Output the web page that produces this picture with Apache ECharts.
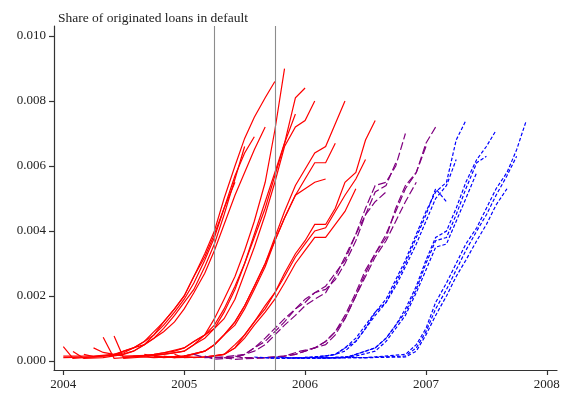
<!DOCTYPE html>
<html>
<head>
<meta charset="utf-8">
<script src="https://cdn.jsdelivr.net/npm/echarts@6/dist/echarts.min.js"></script>
<style>
  html, body { margin: 0; padding: 0; background: #fff; }
  #chart { width: 567px; height: 396px; }
</style>
</head>
<body>
<div id="chart"></div>
<script>
// ---- tick labels and reference dates ----
const xTicks = [2004, 2005, 2006, 2007, 2008];
const yTicks = [0, 0.002, 0.004, 0.006, 0.008, 0.010];
const eventDates = [2005.25, 2005.75];
const titleText = 'Share of originated loans in default';

// ---- red cohorts (solid) : [date, share] ----
const red01 = [[2004.00,0.00015],[2004.25,0.00015],[2004.42,0.00020],[2004.50,0.00025],[2004.58,0.00040],[2004.67,0.00060],[2004.75,0.00090],[2004.83,0.00120],[2004.92,0.00160],[2005.00,0.00200],[2005.08,0.00260],[2005.17,0.00320],[2005.25,0.00390],[2005.33,0.00470],[2005.42,0.00550]];
const red02 = [[2004.00,0.00010],[2004.25,0.00012],[2004.42,0.00018],[2004.50,0.00022],[2004.58,0.00030],[2004.67,0.00050],[2004.75,0.00070],[2004.83,0.00100],[2004.92,0.00140],[2005.00,0.00180],[2005.08,0.00220],[2005.17,0.00290],[2005.25,0.00360],[2005.33,0.00450],[2005.42,0.00560],[2005.50,0.00660]];
const red03 = [[2004.00,0.00044],[2004.08,0.00008],[2004.25,0.00012],[2004.42,0.00020],[2004.50,0.00030],[2004.58,0.00040],[2004.67,0.00050],[2004.75,0.00080],[2004.83,0.00110],[2004.92,0.00150],[2005.00,0.00190],[2005.08,0.00240],[2005.17,0.00310],[2005.25,0.00380],[2005.33,0.00470],[2005.42,0.00570],[2005.50,0.00640],[2005.58,0.00690]];
const red04 = [[2004.08,0.00029],[2004.17,0.00008],[2004.33,0.00010],[2004.50,0.00020],[2004.58,0.00030],[2004.67,0.00050],[2004.75,0.00070],[2004.83,0.00090],[2004.92,0.00120],[2005.00,0.00160],[2005.08,0.00210],[2005.17,0.00270],[2005.25,0.00340],[2005.33,0.00420],[2005.42,0.00510],[2005.50,0.00580],[2005.58,0.00650],[2005.67,0.00720]];
const red05 = [[2004.17,0.00020],[2004.25,0.00013],[2004.42,0.00018],[2004.50,0.00030],[2004.58,0.00040],[2004.67,0.00060],[2004.75,0.00080],[2004.83,0.00120],[2004.92,0.00160],[2005.00,0.00200],[2005.08,0.00260],[2005.17,0.00330],[2005.25,0.00400],[2005.33,0.00500],[2005.42,0.00600],[2005.50,0.00685],[2005.58,0.00750],[2005.67,0.00810],[2005.75,0.00860]];
const red06 = [[2004.25,0.00040],[2004.33,0.00026],[2004.50,0.00015],[2004.75,0.00018],[2004.92,0.00025],[2005.00,0.00030],[2005.08,0.00050],[2005.17,0.00080],[2005.25,0.00130],[2005.33,0.00190],[2005.42,0.00260],[2005.50,0.00340],[2005.58,0.00430],[2005.67,0.00550],[2005.75,0.00710],[2005.83,0.00900]];
const red07 = [[2004.33,0.00073],[2004.42,0.00008],[2004.58,0.00012],[2004.75,0.00020],[2004.92,0.00030],[2005.00,0.00040],[2005.08,0.00060],[2005.17,0.00080],[2005.25,0.00110],[2005.33,0.00160],[2005.42,0.00230],[2005.50,0.00300],[2005.58,0.00380],[2005.67,0.00470],[2005.75,0.00570],[2005.83,0.00670],[2005.92,0.00760]];
const red08 = [[2004.42,0.00077],[2004.50,0.00008],[2004.67,0.00012],[2004.83,0.00020],[2005.00,0.00030],[2005.08,0.00050],[2005.17,0.00070],[2005.25,0.00100],[2005.33,0.00150],[2005.42,0.00220],[2005.50,0.00300],[2005.58,0.00390],[2005.67,0.00490],[2005.75,0.00580],[2005.83,0.00670],[2005.92,0.00810],[2006.00,0.00840]];
const red09 = [[2004.50,0.00012],[2004.67,0.00015],[2004.83,0.00025],[2005.00,0.00040],[2005.08,0.00060],[2005.17,0.00080],[2005.25,0.00100],[2005.33,0.00130],[2005.42,0.00190],[2005.50,0.00270],[2005.58,0.00350],[2005.67,0.00450],[2005.75,0.00550],[2005.83,0.00660],[2005.92,0.00720],[2006.00,0.00740],[2006.08,0.00800]];
const red10 = [[2004.58,0.00015],[2004.75,0.00010],[2005.00,0.00015],[2005.17,0.00030],[2005.25,0.00050],[2005.33,0.00080],[2005.42,0.00120],[2005.50,0.00170],[2005.58,0.00230],[2005.67,0.00300],[2005.75,0.00370],[2005.83,0.00440],[2005.92,0.00510],[2006.00,0.00530],[2006.08,0.00550],[2006.17,0.00560]];
const red11 = [[2004.67,0.00020],[2004.83,0.00010],[2005.00,0.00015],[2005.17,0.00030],[2005.25,0.00050],[2005.33,0.00080],[2005.42,0.00110],[2005.50,0.00160],[2005.58,0.00220],[2005.67,0.00290],[2005.75,0.00370],[2005.83,0.00440],[2005.92,0.00510],[2006.00,0.00560],[2006.08,0.00610],[2006.17,0.00610],[2006.25,0.00670]];
const red12 = [[2004.75,0.00015],[2004.92,0.00010],[2005.08,0.00020],[2005.17,0.00030],[2005.25,0.00050],[2005.33,0.00080],[2005.42,0.00120],[2005.50,0.00170],[2005.58,0.00230],[2005.67,0.00300],[2005.75,0.00380],[2005.83,0.00460],[2005.92,0.00540],[2006.00,0.00590],[2006.08,0.00640],[2006.17,0.00660],[2006.25,0.00730],[2006.33,0.00800]];
const red13 = [[2004.83,0.00015],[2004.92,0.00010],[2005.17,0.00012],[2005.33,0.00020],[2005.42,0.00040],[2005.50,0.00070],[2005.58,0.00110],[2005.67,0.00150],[2005.75,0.00190],[2005.83,0.00240],[2005.92,0.00300],[2006.00,0.00340],[2006.08,0.00380],[2006.17,0.00380],[2006.25,0.00420],[2006.33,0.00460],[2006.42,0.00530]];
const red14 = [[2004.92,0.00020],[2005.00,0.00010],[2005.17,0.00012],[2005.33,0.00020],[2005.42,0.00040],[2005.50,0.00080],[2005.58,0.00120],[2005.67,0.00160],[2005.75,0.00210],[2005.83,0.00260],[2005.92,0.00320],[2006.00,0.00360],[2006.08,0.00400],[2006.17,0.00410],[2006.25,0.00460],[2006.33,0.00510],[2006.42,0.00560],[2006.50,0.00620]];
const red15 = [[2005.00,0.00015],[2005.08,0.00010],[2005.25,0.00015],[2005.33,0.00020],[2005.42,0.00050],[2005.50,0.00080],[2005.58,0.00120],[2005.67,0.00170],[2005.75,0.00210],[2005.83,0.00270],[2005.92,0.00330],[2006.00,0.00370],[2006.08,0.00420],[2006.17,0.00420],[2006.25,0.00470],[2006.33,0.00550],[2006.42,0.00580],[2006.50,0.00680],[2006.58,0.00740]];

// ---- purple cohorts (long dash) ----
const purple1 = [[2005.08,0.00020],[2005.17,0.00010],[2005.33,0.00012],[2005.50,0.00020],[2005.58,0.00030],[2005.67,0.00050],[2005.75,0.00080],[2005.83,0.00110],[2005.92,0.00140],[2006.00,0.00170],[2006.08,0.00190],[2006.17,0.00210],[2006.25,0.00260],[2006.33,0.00320],[2006.42,0.00390],[2006.50,0.00450],[2006.58,0.00490],[2006.67,0.00520]];
const purple2 = [[2005.17,0.00015],[2005.25,0.00005],[2005.42,0.00010],[2005.50,0.00020],[2005.58,0.00040],[2005.67,0.00060],[2005.75,0.00090],[2005.83,0.00120],[2005.92,0.00160],[2006.00,0.00180],[2006.08,0.00210],[2006.17,0.00220],[2006.25,0.00250],[2006.33,0.00300],[2006.42,0.00370],[2006.50,0.00450],[2006.58,0.00520],[2006.67,0.00540],[2006.75,0.00610]];
const purple3 = [[2005.25,0.00010],[2005.42,0.00012],[2005.50,0.00020],[2005.58,0.00040],[2005.67,0.00070],[2005.75,0.00100],[2005.83,0.00130],[2005.92,0.00160],[2006.00,0.00190],[2006.08,0.00210],[2006.17,0.00230],[2006.25,0.00270],[2006.33,0.00310],[2006.42,0.00390],[2006.50,0.00470],[2006.58,0.00540],[2006.67,0.00550],[2006.75,0.00600],[2006.83,0.00700]];
const purple4 = [[2005.33,0.00010],[2005.42,0.00005],[2005.58,0.00008],[2005.75,0.00010],[2005.92,0.00020],[2006.00,0.00030],[2006.08,0.00040],[2006.17,0.00060],[2006.25,0.00090],[2006.33,0.00130],[2006.42,0.00200],[2006.50,0.00260],[2006.58,0.00320],[2006.67,0.00370],[2006.75,0.00430],[2006.83,0.00490],[2006.92,0.00550]];
const purple5 = [[2005.42,0.00015],[2005.50,0.00008],[2005.67,0.00010],[2005.83,0.00015],[2005.92,0.00020],[2006.00,0.00030],[2006.08,0.00040],[2006.17,0.00050],[2006.25,0.00080],[2006.33,0.00130],[2006.42,0.00200],[2006.50,0.00270],[2006.58,0.00330],[2006.67,0.00390],[2006.75,0.00460],[2006.83,0.00530],[2006.92,0.00580],[2007.00,0.00660]];
const purple6 = [[2005.50,0.00010],[2005.67,0.00010],[2005.83,0.00015],[2005.96,0.00030],[2006.08,0.00040],[2006.17,0.00060],[2006.25,0.00090],[2006.33,0.00140],[2006.42,0.00210],[2006.50,0.00280],[2006.58,0.00330],[2006.67,0.00380],[2006.75,0.00470],[2006.83,0.00540],[2006.92,0.00580],[2007.00,0.00670],[2007.08,0.00720]];

// ---- blue cohorts (short dash) ----
const blue1 = [[2005.58,0.00012],[2005.75,0.00008],[2006.00,0.00010],[2006.17,0.00015],[2006.25,0.00020],[2006.33,0.00040],[2006.42,0.00070],[2006.50,0.00110],[2006.58,0.00150],[2006.67,0.00180],[2006.75,0.00240],[2006.83,0.00300],[2006.92,0.00380],[2007.00,0.00450],[2007.08,0.00530],[2007.17,0.00490]];
const blue2 = [[2005.67,0.00010],[2005.83,0.00008],[2006.00,0.00010],[2006.17,0.00015],[2006.25,0.00020],[2006.33,0.00030],[2006.42,0.00060],[2006.50,0.00100],[2006.58,0.00140],[2006.67,0.00180],[2006.75,0.00230],[2006.83,0.00290],[2006.92,0.00360],[2007.00,0.00430],[2007.08,0.00500],[2007.17,0.00540],[2007.25,0.00620]];
const blue3 = [[2005.75,0.00012],[2005.92,0.00008],[2006.08,0.00010],[2006.25,0.00020],[2006.33,0.00040],[2006.42,0.00060],[2006.50,0.00100],[2006.58,0.00150],[2006.67,0.00190],[2006.75,0.00250],[2006.83,0.00310],[2006.92,0.00390],[2007.00,0.00460],[2007.08,0.00520],[2007.17,0.00550],[2007.25,0.00680],[2007.33,0.00740]];
const blue4 = [[2005.83,0.00010],[2006.00,0.00008],[2006.25,0.00010],[2006.42,0.00015],[2006.58,0.00030],[2006.67,0.00060],[2006.75,0.00100],[2006.83,0.00140],[2006.92,0.00210],[2007.00,0.00280],[2007.08,0.00350],[2007.17,0.00360],[2007.25,0.00430],[2007.33,0.00500],[2007.42,0.00580]];
const blue5 = [[2005.92,0.00010],[2006.08,0.00008],[2006.33,0.00010],[2006.42,0.00020],[2006.58,0.00040],[2006.67,0.00070],[2006.75,0.00110],[2006.83,0.00150],[2006.92,0.00220],[2007.00,0.00300],[2007.08,0.00370],[2007.17,0.00380],[2007.25,0.00450],[2007.33,0.00530],[2007.42,0.00610],[2007.50,0.00630]];
const blue6 = [[2006.00,0.00012],[2006.17,0.00008],[2006.33,0.00010],[2006.42,0.00020],[2006.58,0.00040],[2006.67,0.00070],[2006.75,0.00110],[2006.83,0.00160],[2006.92,0.00230],[2007.00,0.00310],[2007.08,0.00380],[2007.17,0.00400],[2007.25,0.00470],[2007.33,0.00550],[2007.42,0.00620],[2007.50,0.00660],[2007.58,0.00710]];
const blue7 = [[2006.08,0.00010],[2006.50,0.00010],[2006.83,0.00012],[2006.92,0.00030],[2007.00,0.00080],[2007.08,0.00140],[2007.17,0.00200],[2007.25,0.00260],[2007.33,0.00310],[2007.42,0.00370],[2007.50,0.00420],[2007.58,0.00480],[2007.67,0.00530]];
const blue8 = [[2006.17,0.00010],[2006.50,0.00010],[2006.83,0.00015],[2006.92,0.00040],[2007.00,0.00090],[2007.08,0.00160],[2007.17,0.00220],[2007.25,0.00280],[2007.33,0.00340],[2007.42,0.00400],[2007.50,0.00450],[2007.58,0.00510],[2007.67,0.00570],[2007.75,0.00630]];
const blue9 = [[2006.25,0.00012],[2006.50,0.00010],[2006.83,0.00020],[2006.92,0.00050],[2007.00,0.00100],[2007.08,0.00180],[2007.17,0.00240],[2007.25,0.00300],[2007.33,0.00360],[2007.42,0.00410],[2007.50,0.00470],[2007.58,0.00530],[2007.67,0.00580],[2007.75,0.00650],[2007.83,0.00740]];

const redLines = [red01, red02, red03, red04, red05, red06, red07, red08, red09, red10, red11, red12, red13, red14, red15];
const purpleLines = [purple1, purple2, purple3, purple4, purple5, purple6];
const blueLines = [blue1, blue2, blue3, blue4, blue5, blue6, blue7, blue8, blue9];

const FONT = "'Liberation Serif', 'DejaVu Serif', serif";

function lineSeries(data, color, type, z) {
  return {
    type: 'line', data: data, showSymbol: false, symbol: 'none',
    silent: true, z: z, animation: false,
    lineStyle: { color: color, width: 1.2, type: type, cap: 'butt', join: 'miter' }
  };
}

const series = [];
// reference lines for the two dates
series.push({
  type: 'line', data: [], z: 1, silent: true,
  markLine: {
    silent: true, symbol: ['none', 'none'], animation: false,
    label: { show: false },
    lineStyle: { color: '#8c8c8c', width: 1.1, type: 'solid' },
    emphasis: { disabled: true },
    data: eventDates.map(d => ({ xAxis: d }))
  }
});
redLines.forEach(d => series.push(lineSeries(d, '#ff0000', 'solid', 2)));
purpleLines.forEach(d => series.push(lineSeries(d, '#800080', [8, 3], 3)));
blueLines.forEach(d => series.push(lineSeries(d, '#0000ff', [3.5, 2], 4)));

const chart = echarts.init(document.getElementById('chart'), null, { renderer: 'canvas' });
chart.setOption({
  animation: false,
  backgroundColor: '#ffffff',
  title: {
    text: titleText, left: 53, top: 6,
    textStyle: { fontFamily: FONT, fontSize: 13.5, fontWeight: 'normal', color: '#222' }
  },
  grid: { left: 54, right: 10, top: 26, bottom: 26, containLabel: false, outerBoundsMode: 'none' },
  xAxis: {
    type: 'value', min: 2003.923, max: 2008.084,
    splitLine: { show: false },
    axisLine: { show: true, onZero: false, lineStyle: { color: '#333', width: 1.2 } },
    axisTick: { show: true, length: 5, customValues: xTicks, lineStyle: { color: '#333', width: 1.2 } },
    axisLabel: { customValues: xTicks, margin: 8, fontFamily: FONT, fontSize: 13, color: '#222',
                 formatter: v => String(Math.round(v)) }
  },
  yAxis: {
    type: 'value', min: -0.00028, max: 0.01031,
    splitLine: { show: false },
    axisLine: { show: true, onZero: false, lineStyle: { color: '#333', width: 1.2 } },
    axisTick: { show: true, length: 5, customValues: yTicks, lineStyle: { color: '#333', width: 1.2 } },
    axisLabel: { customValues: yTicks, margin: 8, fontFamily: FONT, fontSize: 13, color: '#222',
                 formatter: v => v.toFixed(3) }
  },
  series: series
});
</script>
</body>
</html>
